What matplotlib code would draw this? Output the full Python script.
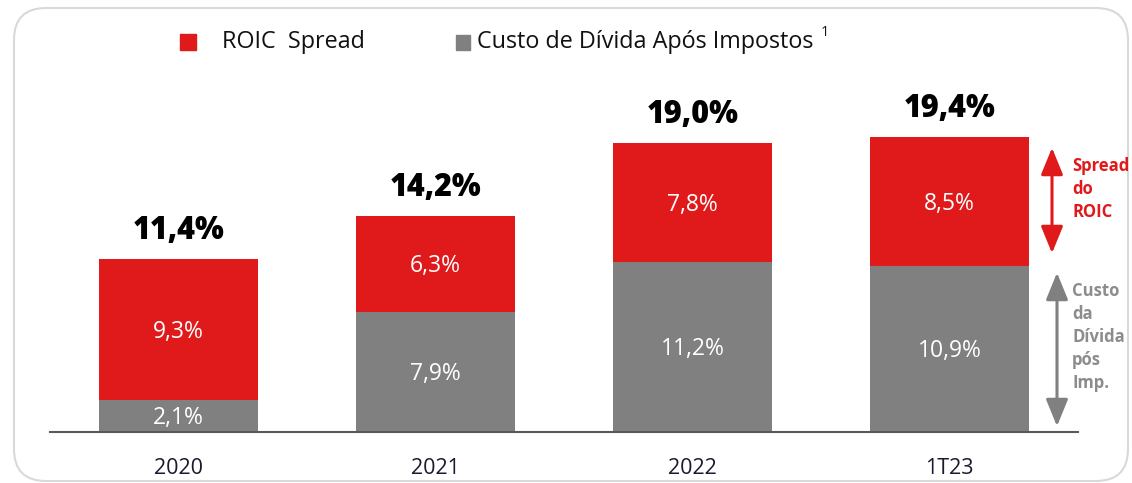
import matplotlib
matplotlib.use("Agg")
import matplotlib.pyplot as plt
from matplotlib.patches import FancyBboxPatch, FancyArrowPatch

categories = ["2020", "2021", "2022", "1T23"]
custo_divida = [2.1, 7.9, 11.2, 10.9]
roic_spread = [9.3, 6.3, 7.8, 8.5]
totais = ["11,4%", "14,2%", "19,0%", "19,4%"]
custo_labels = ["2,1%", "7,9%", "11,2%", "10,9%"]
spread_labels = ["9,3%", "6,3%", "7,8%", "8,5%"]

RED = "#E0191B"
GRAY = "#808080"
W, H = 1132, 483
plt.rcParams['font.family'] = ['Open Sans', 'DejaVu Sans']

fig = plt.figure(figsize=(W / 100, H / 100), dpi=100)

def fx(x):
    return x / W

def fy(y):
    return 1 - y / H

# rounded border
border = FancyBboxPatch((14 / 100, (H - 481) / 100), (1128 - 14) / 100, (481 - 8) / 100,
                        boxstyle="round,pad=0,rounding_size=0.32",
                        transform=fig.dpi_scale_trans, fill=False,
                        edgecolor="#d9d9d9", linewidth=1.5)
fig.patches.append(border)

ax = fig.add_axes([fx(50), fy(432), (1078 - 50) / W, 380 / H])
x = list(range(len(categories)))
ax.bar(x, custo_divida, width=0.62, color=GRAY)
ax.bar(x, roic_spread, width=0.62, bottom=custo_divida, color=RED)
ax.set_xlim(-0.5, 3.5)
ax.set_ylim(0, 25)
for s in ["top", "right", "left"]:
    ax.spines[s].set_visible(False)
ax.spines["bottom"].set_color("#595959")
ax.spines["bottom"].set_linewidth(1.5)
ax.set_yticks([])
ax.set_xticks(x)
ax.set_xticklabels(categories, fontsize=15.5, color="#1a1a2e")
ax.tick_params(axis="x", length=0, pad=19)

for i in x:
    c = custo_divida[i]
    r = roic_spread[i]
    ax.text(i, c / 2 - 0.15, custo_labels[i], ha="center", va="center",
            color="white", fontsize=16.5)
    ax.text(i, c + r / 2 - 0.15, spread_labels[i], ha="center", va="center",
            color="white", fontsize=16.5)
    ax.text(i, c + r + 0.8, totais[i], ha="center", va="bottom",
            color="black", fontsize=22, fontweight="heavy")

# legend
fig.patches.append(plt.Rectangle((fx(180), fy(50)), fx(16), 16 / H, color=RED,
                                 transform=fig.transFigure))
fig.text(fx(222), fy(42), "ROIC  Spread", fontsize=16.8, va="center", ha="left",
         color="#111111")
fig.patches.append(plt.Rectangle((fx(456), fy(50)), fx(14), 15 / H, color=GRAY,
                                 transform=fig.transFigure))
fig.text(fx(477), fy(42), "Custo de Dívida Após Impostos", fontsize=16.8, va="center",
         ha="left", color="#111111")
fig.text(fx(821), fy(33), "1", fontsize=10.5, va="center", ha="left", color="#111111")

# right annotations
a1 = FancyArrowPatch((fx(1052), fy(145)), (fx(1052), fy(256)), transform=fig.transFigure,
                     arrowstyle="<|-|>,head_length=11,head_width=4.5", color=RED,
                     linewidth=2.2, mutation_scale=1.5)
fig.patches.append(a1)
a2 = FancyArrowPatch((fx(1057), fy(270)), (fx(1057), fy(429)), transform=fig.transFigure,
                     arrowstyle="<|-|>,head_length=11,head_width=4.5", color=GRAY,
                     linewidth=2.2, mutation_scale=1.5)
fig.patches.append(a2)
fig.text(fx(1072), fy(157), "Spread\ndo\nROIC", fontsize=12, fontweight="bold",
         color=RED, va="top", ha="left", linespacing=1.35)
fig.text(fx(1072), fy(282), "Custo\nda\nDívida\npós\nImp.", fontsize=12,
         fontweight="bold", color="#8c8c8c", va="top", ha="left", linespacing=1.35)

fig.savefig("out.png", dpi=100)
